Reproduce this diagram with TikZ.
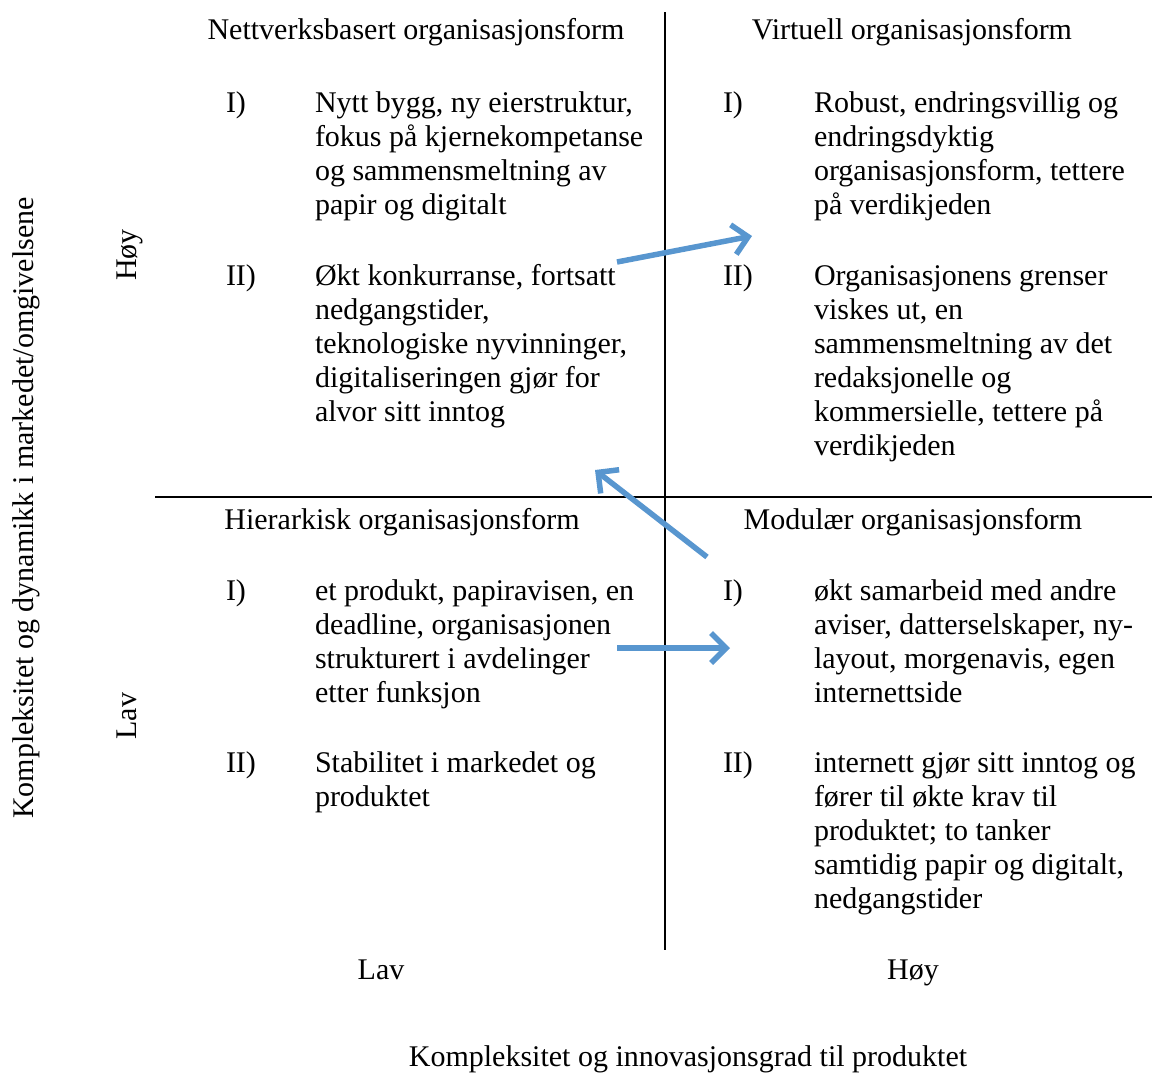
\documentclass[tikz,border=0pt]{standalone}
\usepackage{fontspec}
\setmainfont{Liberation Serif}
\usetikzlibrary{arrows.meta}
\definecolor{arrowblue}{RGB}{88,150,207}
\begin{document}
\begin{tikzpicture}[x=1pt,y=-1pt,
  every node/.style={font=\fontsize{30}{34}\selectfont, inner sep=0pt, outer sep=0pt},
  body/.style={anchor=base west, text width=345pt, align=left,
    execute at begin node={\spaceskip=0.25em\relax}},
  enum/.style={anchor=base west},
  head/.style={anchor=base},
  rule/.style={line width=2pt, black},
  move/.style={line width=5.5pt, arrowblue,
    -{Straight Barb[length=15pt,width=30pt,line width=5.5pt]}},
]
\useasboundingbox (0,0) rectangle (1154,1072);

% quadrant axes
\coordinate (vtop) at (665,12);
\coordinate (vbot) at (665,950);
\coordinate (hleft) at (155,497);
\coordinate (hright) at (1152,497);
\draw[rule] (vtop) -- (vbot);
\draw[rule] (hleft) -- (hright);

% quadrant headings
\node[head] (hNW) at (416,39) {Nettverksbasert organisasjonsform};
\node[head] (hNE) at (912,39) {Virtuell organisasjonsform};
\node[head] (hSW) at (402,529) {Hierarkisk organisasjonsform};
\node[head] (hSE) at (913,529) {Modulær organisasjonsform};

% upper left
\node[enum] (nwIl) at (226,112) {I)};
\node[body] (nwI) at (315,112) {Nytt bygg, ny eierstruktur,\\fokus på kjernekompetanse\\og sammensmeltning av\\papir og digitalt};
\node[enum] (nwIIl) at (226,285) {II)};
\node[body] (nwII) at (315,285) {Økt konkurranse, fortsatt\\nedgangstider,\\teknologiske nyvinninger,\\digitaliseringen gjør for\\alvor sitt inntog};

% upper right
\node[enum] (neIl) at (723,112) {I)};
\node[body] (neI) at (814,112) {Robust, endringsvillig og\\endringsdyktig\\organisasjonsform, tettere\\på verdikjeden};
\node[enum] (neIIl) at (723,285) {II)};
\node[body] (neII) at (814,285) {Organisasjonens grenser\\viskes ut, en\\sammensmeltning av det\\redaksjonelle og\\kommersielle, tettere på\\verdikjeden};

% lower left
\node[enum] (swIl) at (226,600) {I)};
\node[body] (swI) at (315,600) {et produkt, papiravisen, en\\deadline, organisasjonen\\strukturert i avdelinger\\etter funksjon};
\node[enum] (swIIl) at (226,772) {II)};
\node[body] (swII) at (315,772) {Stabilitet i markedet og\\produktet};

% lower right
\node[enum] (seIl) at (723,600) {I)};
\node[body] (seI) at (814,600) {økt samarbeid med andre\\aviser, datterselskaper, ny-\\layout, morgenavis, egen\\internettside};
\node[enum] (seIIl) at (723,772) {II)};
\node[body] (seII) at (814,772) {internett gjør sitt inntog og\\fører til økte krav til\\produktet; to tanker\\samtidig papir og digitalt,\\nedgangstider};

% axis labels
\node[head, rotate=90] (yHigh) at (136,255) {Høy};
\node[head, rotate=90] (yLow) at (136,716) {Lav};
\node[head, rotate=90] (yTitle) at (33,508) {Kompleksitet og dynamikk i markedet/omgivelsene};
\node[head] (xLow) at (381,979) {Lav};
\node[head] (xHigh) at (913,979) {Høy};
\node[head] (xTitle) at (688,1066) {Kompleksitet og innovasjonsgrad til produktet};

% transitions between the forms
\coordinate (m1s) at (617,262);
\coordinate (m1e) at (752,236);
\coordinate (m2s) at (707,557);
\coordinate (m2e) at (595,470);
\coordinate (m3s) at (617,648);
\coordinate (m3e) at (730,648);
\draw[move] (m1s) -- (m1e);
\draw[move] (m2s) -- (m2e);
\draw[move] (m3s) -- (m3e);
\end{tikzpicture}
\end{document}
